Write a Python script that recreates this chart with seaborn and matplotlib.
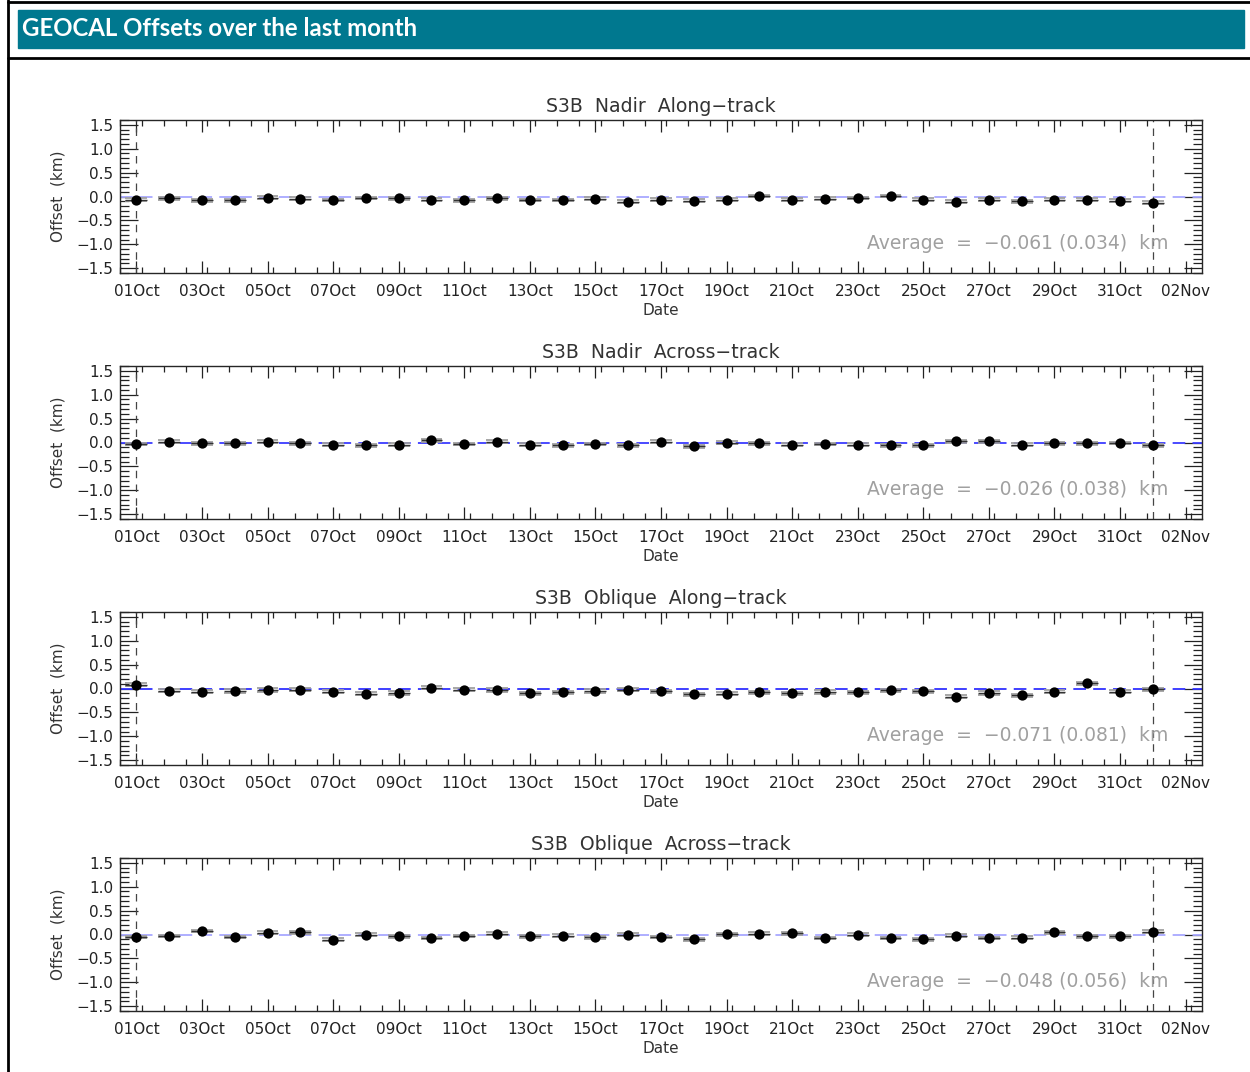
import numpy as np
import pandas as pd
import matplotlib
matplotlib.use("Agg")
import matplotlib.pyplot as plt
import matplotlib.dates as mdates
from matplotlib.ticker import MultipleLocator, FixedLocator
import seaborn as sns

# daily offsets, 01Oct .. 01Nov
dates = pd.date_range("2019-10-01", "2019-11-01", freq="D")

panel_titles = [
    "S3B  Nadir  Along\u2212track",
    "S3B  Nadir  Across\u2212track",
    "S3B  Oblique  Along\u2212track",
    "S3B  Oblique  Across\u2212track",
]

nadir_along = [-0.065, -0.036, -0.080, -0.080, -0.022, -0.050, -0.072, -0.030,
               -0.036, -0.065, -0.080, -0.036, -0.072, -0.072, -0.050, -0.110,
               -0.070, -0.085, -0.070, 0.010, -0.070, -0.045, -0.030, 0.010,
               -0.070, -0.110, -0.070, -0.100, -0.070, -0.070, -0.085, -0.130]
nadir_across = [-0.030, 0.015, -0.015, -0.015, 0.015, -0.015, -0.045, -0.060,
                -0.045, 0.050, -0.030, 0.015, -0.045, -0.060, -0.030, -0.060,
                0.015, -0.075, 0.000, -0.020, -0.045, -0.030, -0.045, -0.060,
                -0.060, 0.030, 0.030, -0.045, -0.015, -0.015, -0.010, -0.060]
oblique_along = [0.080, -0.045, -0.067, -0.052, -0.030, -0.022, -0.067, -0.110,
                 -0.096, 0.015, -0.022, -0.030, -0.104, -0.082, -0.052, -0.022,
                 -0.060, -0.125, -0.110, -0.080, -0.104, -0.074, -0.080, -0.037,
                 -0.060, -0.170, -0.096, -0.140, -0.067, 0.110, -0.067, -0.015]
oblique_across = [-0.052, -0.030, 0.074, -0.052, 0.037, 0.044, -0.110, -0.007,
                  -0.037, -0.074, -0.030, 0.015, -0.037, -0.022, -0.060, 0.000,
                  -0.052, -0.096, 0.007, 0.015, 0.022, -0.074, -0.007, -0.074,
                  -0.100, -0.022, -0.074, -0.067, 0.044, -0.037, -0.037, 0.060]

series = [nadir_along, nadir_across, oblique_along, oblique_across]
spreads = [0.03, 0.03, 0.035, 0.03]
averages = ["\u22120.061 (0.034)", "\u22120.026 (0.038)",
            "\u22120.071 (0.081)", "\u22120.048 (0.056)"]
zero_colors = ["#a8a8ff", "#3c3cff", "#3030ff", "#a8a8ff"]

tick_dates = pd.date_range("2019-10-01", "2019-11-02", freq="2D")
marker_dates = [pd.Timestamp("2019-10-01"), pd.Timestamp("2019-11-01")]

sns.set_style("ticks")
plt.rcParams["font.family"] = ["DejaVu Sans"]
plt.rcParams["axes.linewidth"] = 1.0

fig = plt.figure(figsize=(12.5, 10.72), dpi=100)

# header band and frame lines
fig.patches.append(plt.Rectangle((18 / 1250, 1 - 48 / 1072), 1226 / 1250, 38 / 1072,
                                 transform=fig.transFigure, color="#00788f", zorder=0))
fig.text(22 / 1250, 1 - 29 / 1072, "GEOCAL Offsets over the last month",
         family="Lato", weight="bold", fontsize=17.3, color="white", va="center")
fig.add_artist(plt.Line2D([8 / 1250, 8 / 1250], [0, 1], color="black", lw=2,
                          transform=fig.transFigure))
fig.add_artist(plt.Line2D([8 / 1250, 1], [1 - 2 / 1072, 1 - 2 / 1072], color="black",
                          lw=2, transform=fig.transFigure))
fig.add_artist(plt.Line2D([8 / 1250, 1], [1 - 58 / 1072, 1 - 58 / 1072], color="black",
                          lw=2, transform=fig.transFigure))

start = dates[0]
half = pd.Timedelta(hours=8)
minor_pos = np.arange(mdates.date2num(start) - 0.5, mdates.date2num(start) + 32.6, 2 / 3)

for i, vals in enumerate(series):
    top_px = 120 + 246 * i
    ax = fig.add_axes([120 / 1250, 1 - (top_px + 153) / 1072, 1082 / 1250, 153 / 1072])
    df = pd.DataFrame({"date": dates, "offset": vals})

    ax.axhline(0, color=zero_colors[i], lw=1.3, ls=(0, (7, 4)), zorder=1)
    for d in marker_dates:
        ax.axvline(d, color="#444444", lw=0.9, ls=(0, (6, 5)), zorder=1)

    e = spreads[i]
    ax.hlines(df["offset"] + e, df["date"] - half, df["date"] + half, color="#a0a0a0", lw=1.3, zorder=2)
    ax.hlines(df["offset"] - e, df["date"] - half, df["date"] + half, color="#a0a0a0", lw=1.3, zorder=2)
    ax.hlines(df["offset"], df["date"] - half, df["date"] + half, color="#333333", lw=1.0, zorder=2)
    sns.scatterplot(data=df, x="date", y="offset", ax=ax, color="black",
                    s=55, edgecolor="black", linewidth=0, zorder=3, legend=False)

    ax.set_xlim(start - pd.Timedelta(days=0.5), start + pd.Timedelta(days=32.5))
    ax.set_ylim(-1.6, 1.6)
    ax.xaxis.set_major_locator(FixedLocator(mdates.date2num(tick_dates)))
    ax.xaxis.set_major_formatter(mdates.DateFormatter("%d%b"))
    ax.xaxis.set_minor_locator(FixedLocator(minor_pos))
    ax.yaxis.set_major_locator(MultipleLocator(0.5))
    ax.yaxis.set_minor_locator(MultipleLocator(0.1))
    ax.tick_params(axis="both", which="both", direction="in", top=True, right=True,
                   colors="#222222", width=0.9)
    ax.tick_params(axis="x", which="major", length=8.5, labelsize=11, pad=8)
    ax.tick_params(axis="x", which="minor", length=4.5)
    ax.tick_params(axis="y", which="major", length=13, labelsize=11, pad=5)
    ax.tick_params(axis="y", which="minor", length=6.5)
    for lab in ax.get_xticklabels() + ax.get_yticklabels():
        lab.set_color("#222222")

    ax.set_title(panel_titles[i], fontsize=13.6, color="#333333", pad=6)
    ax.set_xlabel("Date", fontsize=11, color="#333333", labelpad=3)
    ax.set_ylabel("Offset  (km)", fontsize=11, color="#333333", labelpad=8)
    ax.text(0.969, 0.19, "Average  =  " + averages[i] + "  km", transform=ax.transAxes,
            ha="right", va="center", fontsize=13.5, color="#a0a0a0")

fig.savefig("out.png", dpi=100)
